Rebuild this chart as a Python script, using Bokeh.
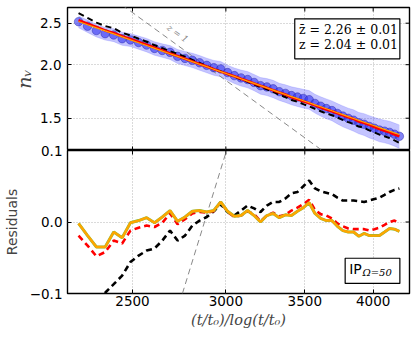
import numpy as np
from bokeh.plotting import figure
from bokeh.models import (FixedTicker, Range1d, Label, BoxAnnotation, CustomJSTickFormatter)
from bokeh.layouts import column
from bokeh.embed import file_html
from bokeh.resources import INLINE

# ---------------- data ----------------
x_vals = [2250, 2290, 2330, 2370, 2410, 2450, 2490, 2530, 2570, 2610,
          2650, 2690, 2730, 2770, 2810, 2850, 2890, 2930, 2970, 3010,
          3050, 3090, 3130, 3170, 3210, 3250, 3290, 3330, 3370, 3410,
          3450, 3490, 3530, 3570, 3610, 3650, 3690, 3730, 3770, 3810,
          3850, 3890, 3930, 3970, 4010, 4050, 4090, 4130, 4170, 4210]

n_v = [2.520, 2.460, 2.403, 2.363, 2.346, 2.300, 2.285, 2.253, 2.223, 2.183,
       2.159, 2.137, 2.092, 2.069, 2.048, 2.021, 1.993, 1.968, 1.955, 1.917,
       1.886, 1.863, 1.847, 1.818, 1.787, 1.775, 1.757, 1.730, 1.714, 1.694,
       1.681, 1.668, 1.657, 1.624, 1.600, 1.580, 1.563, 1.539, 1.517, 1.499,
       1.484, 1.463, 1.452, 1.435, 1.421, 1.407, 1.399, 1.390, 1.376, 1.361]

n_err = [0.080, 0.082, 0.081, 0.080, 0.082, 0.081, 0.079, 0.080, 0.081, 0.079,
         0.078, 0.080, 0.079, 0.078, 0.079, 0.080, 0.078, 0.079, 0.080, 0.078,
         0.079, 0.080, 0.081, 0.079, 0.080, 0.081, 0.082, 0.080, 0.081, 0.082,
         0.083, 0.084, 0.083, 0.082, 0.083, 0.084, 0.083, 0.084, 0.085, 0.084,
         0.085, 0.084, 0.085, 0.086, 0.085, 0.086, 0.085, 0.086, 0.085, 0.086]

res_orange = [-0.002, -0.019, -0.035, -0.035, -0.014, -0.022, -0.001, 0.002, 0.006, -0.001,
              0.007, 0.016, 0.001, 0.007, 0.015, 0.016, 0.014, 0.016, 0.028, 0.015,
              0.008, 0.009, 0.016, 0.009, 0.000, 0.009, 0.012, 0.006, 0.010, 0.009,
              0.015, 0.020, 0.027, 0.012, 0.005, 0.002, 0.002, -0.006, -0.012, -0.014,
              -0.014, -0.020, -0.016, -0.019, -0.019, -0.019, -0.014, -0.009, -0.010, -0.013]

res_red = [-0.019, -0.033, -0.048, -0.042, -0.026, -0.030, -0.012, -0.008, -0.005, -0.007,
           -0.001, 0.012, -0.003, 0.004, 0.012, 0.014, 0.013, 0.015, 0.028, 0.014,
           0.007, 0.009, 0.015, 0.011, 0.001, 0.009, 0.013, 0.008, 0.010, 0.016,
           0.020, 0.025, 0.031, 0.017, 0.011, 0.009, 0.005, -0.002, -0.006, -0.009,
           -0.010, -0.010, -0.010, -0.012, -0.010, -0.008, -0.004, 0.000, 0.002, -0.001]

res_black = [-0.120, -0.112, -0.105, -0.099, -0.087, -0.075, -0.056, -0.047, -0.040, -0.037,
             -0.026, -0.012, -0.026, -0.019, -0.005, 0.002, 0.007, 0.015, 0.025, 0.014,
             0.009, 0.016, 0.023, 0.019, 0.014, 0.023, 0.028, 0.028, 0.033, 0.040,
             0.042, 0.050, 0.058, 0.047, 0.043, 0.041, 0.039, 0.034, 0.030, 0.030,
             0.030, 0.029, 0.028, 0.030, 0.032, 0.034, 0.038, 0.042, 0.045, 0.047]

# reference power law z = 1 (end points), top panel and its residual
z1_x = [2300, 3700]
z1_n = [3.127, 1.208]
z1_res_x = [2756, 3004]
z1_res = [-0.1, 0.1]

x_ticks = [2500, 3000, 3500, 4000]
n_ticks = [1.5, 2.0, 2.5]
res_ticks = [-0.1, 0.0, 0.1]

legend_lines = ["z\u0304 = 2.26 \u00b1 0.01", "z = 2.04 \u00b1 0.01"]

# ---------------- derived ----------------
x = np.array(x_vals, dtype=float)
n = np.array(n_v)
err = np.array(n_err)
fit_orange = n - np.array(res_orange)
fit_red = n - np.array(res_red)
fit_black = n - np.array(res_black)

TICK_FONT = "DejaVu Sans"
TICK_SIZE = "13.5px"
GRID_COLOR = "#b4b4b4"
X0, X1 = 2202, 4294

fmt_x = CustomJSTickFormatter(code="return tick.toFixed(0);")
fmt_1 = CustomJSTickFormatter(code="return (tick < -1e-9 ? '\\u2212' : '') + Math.abs(tick).toFixed(1);")


def style_axis(ax):
    ax.major_tick_in = 4
    ax.major_tick_out = 0
    ax.minor_tick_in = 0
    ax.minor_tick_out = 0
    ax.axis_line_color = None
    ax.major_tick_line_color = "black"
    ax.major_tick_line_width = 1
    ax.major_label_text_font = TICK_FONT
    ax.major_label_text_font_size = TICK_SIZE
    ax.major_label_text_color = "black"


def inner_ticks(p, xs, ys, vertical):
    p.scatter(x=xs, y=ys, marker="dash", size=8, angle=(np.pi / 2 if vertical else 0.0),
              line_color="black", line_width=1)


def style_grid(p, xt, yt):
    p.xgrid.ticker = FixedTicker(ticks=xt, minor_ticks=[])
    p.ygrid.ticker = FixedTicker(ticks=yt, minor_ticks=[])
    for g in (p.xgrid[0], p.ygrid[0]):
        g.grid_line_color = GRID_COLOR
        g.grid_line_dash = "1 2"
        g.grid_line_width = 1


# ---------------- top panel ----------------
p1 = figure(frame_width=342, frame_height=143, x_axis_type="log", y_axis_type="log",
            x_range=Range1d(X0, X1), y_range=Range1d(1.261, 2.720),
            output_backend="svg", toolbar_location=None,
            min_border_left=65, min_border_right=7, min_border_top=7, min_border_bottom=0)
p1.outline_line_color = "black"
p1.outline_line_width = 1.4
p1.background_fill_color = "white"
p1.border_fill_color = "white"

p1.xaxis.visible = False
p1.yaxis.ticker = FixedTicker(ticks=n_ticks, minor_ticks=[])
p1.yaxis.formatter = fmt_1
style_axis(p1.yaxis[0])
p1.yaxis.major_label_standoff = 6
p1.yaxis.axis_label = "n\u1d65"
p1.yaxis.axis_label_text_font = "DejaVu Serif"
p1.yaxis.axis_label_text_font_style = "italic"
p1.yaxis.axis_label_text_font_size = "19px"
p1.yaxis.axis_label_standoff = 2
style_grid(p1, x_ticks, n_ticks)

p1.varea(x=x, y1=n - err, y2=n + err, fill_color="#2a2aff", fill_alpha=0.28)
p1.line(x, n - err, line_color="#2a2aff", line_alpha=0.15, line_width=1)
p1.line(x, n + err, line_color="#2a2aff", line_alpha=0.15, line_width=1)
p1.line(z1_x, z1_n, line_color="#888888", line_width=1, line_dash="6 4")
p1.scatter(x, n, size=8.5, fill_color="#3030f0", fill_alpha=0.6,
           line_color="#2020a0", line_alpha=0.55, line_width=0.8)
p1.line(x, fit_black, line_color="black", line_width=2, line_dash="6 4")
p1.line(x, fit_red, line_color="#ff0000", line_width=2.6)
p1.line(x, fit_orange, line_color="#ffa500", line_width=1.2)

inner_ticks(p1, x_ticks, [p1.y_range.end] * len(x_ticks), True)
inner_ticks(p1, x_ticks, [p1.y_range.start] * len(x_ticks), True)
inner_ticks(p1, [X1] * len(n_ticks), n_ticks, False)

p1.add_layout(Label(x=2730, y=2.365, text="z = 1", angle=-0.63, text_align="center",
                    text_baseline="middle", text_color="#888888", text_font="DejaVu Serif",
                    text_font_style="italic", text_font_size="9px"))
p1.add_layout(BoxAnnotation(left=3432, right=4214, top=2.560, bottom=2.0645,
                            fill_color="white", fill_alpha=1.0, line_color="black",
                            line_width=1.2, line_alpha=1.0))
p1.add_layout(Label(x=3460, y=2.4167, text=legend_lines[0], text_baseline="middle",
                    text_font="DejaVu Serif", text_font_size="12.5px", text_color="black"))
p1.add_layout(Label(x=3460, y=2.226, text=legend_lines[1], text_baseline="middle",
                    text_font="DejaVu Serif", text_font_size="12.5px", text_color="black"))

# ---------------- bottom panel ----------------
p2 = figure(frame_width=342, frame_height=143, x_axis_type="log",
            x_range=p1.x_range, y_range=Range1d(-0.1, 0.1),
            output_backend="svg", toolbar_location=None,
            min_border_left=65, min_border_right=7, min_border_top=10, min_border_bottom=44,
            margin=(-10, 0, 0, 0))
p2.outline_line_color = "black"
p2.outline_line_width = 1.4
p2.background_fill_color = "white"
p2.border_fill_color = None
p2.border_fill_alpha = 0

p2.xaxis.ticker = FixedTicker(ticks=x_ticks, minor_ticks=[])
p2.xaxis.formatter = fmt_x
style_axis(p2.xaxis[0])
p2.xaxis.major_label_standoff = 2
p2.xaxis.axis_label = "(t/t\u2080)/log(t/t\u2080)"
p2.xaxis.axis_label_text_font = "DejaVu Serif"
p2.xaxis.axis_label_text_font_style = "italic"
p2.xaxis.axis_label_text_font_size = "14.5px"
p2.xaxis.axis_label_standoff = 3

p2.yaxis.ticker = FixedTicker(ticks=res_ticks, minor_ticks=[])
p2.yaxis.formatter = fmt_1
style_axis(p2.yaxis[0])
p2.yaxis.major_label_standoff = 5
p2.yaxis.axis_label = "Residuals"
p2.yaxis.axis_label_text_font = "DejaVu Sans"
p2.yaxis.axis_label_text_font_style = "normal"
p2.yaxis.axis_label_text_font_size = "14px"
p2.yaxis.axis_label_standoff = 7
style_grid(p2, x_ticks, res_ticks)

p2.line(z1_res_x, z1_res, line_color="#888888", line_width=1, line_dash="6 4")
p2.line(x, res_black, line_color="black", line_width=2.6, line_dash="6 4")
p2.line(x, res_red, line_color="#ff0000", line_width=2.6, line_dash="6 4")
p2.line(x, res_orange, line_color="#7fbf3f", line_width=3.0)
p2.line(x, res_orange, line_color="#ffa500", line_width=2.4)

inner_ticks(p2, x_ticks, [p2.y_range.end] * len(x_ticks), True)
inner_ticks(p2, [X1] * len(res_ticks), res_ticks, False)

p2.add_layout(BoxAnnotation(left=3787, right=4214, top=-0.0507, bottom=-0.0859,
                            fill_color="white", fill_alpha=1.0, line_color="black",
                            line_width=1.2, line_alpha=1.0))
p2.add_layout(Label(x=3817, y=-0.0652, text="IP", text_baseline="middle",
                    text_font="DejaVu Sans", text_font_size="14px", text_color="black"))
p2.add_layout(Label(x=3917, y=-0.0708, text="\u03a9=50", text_baseline="middle",
                    text_font="DejaVu Serif", text_font_style="italic",
                    text_font_size="10px", text_color="black"))

layout = column(p1, p2, spacing=0)
open("out.html", "w").write(file_html(layout, INLINE))
